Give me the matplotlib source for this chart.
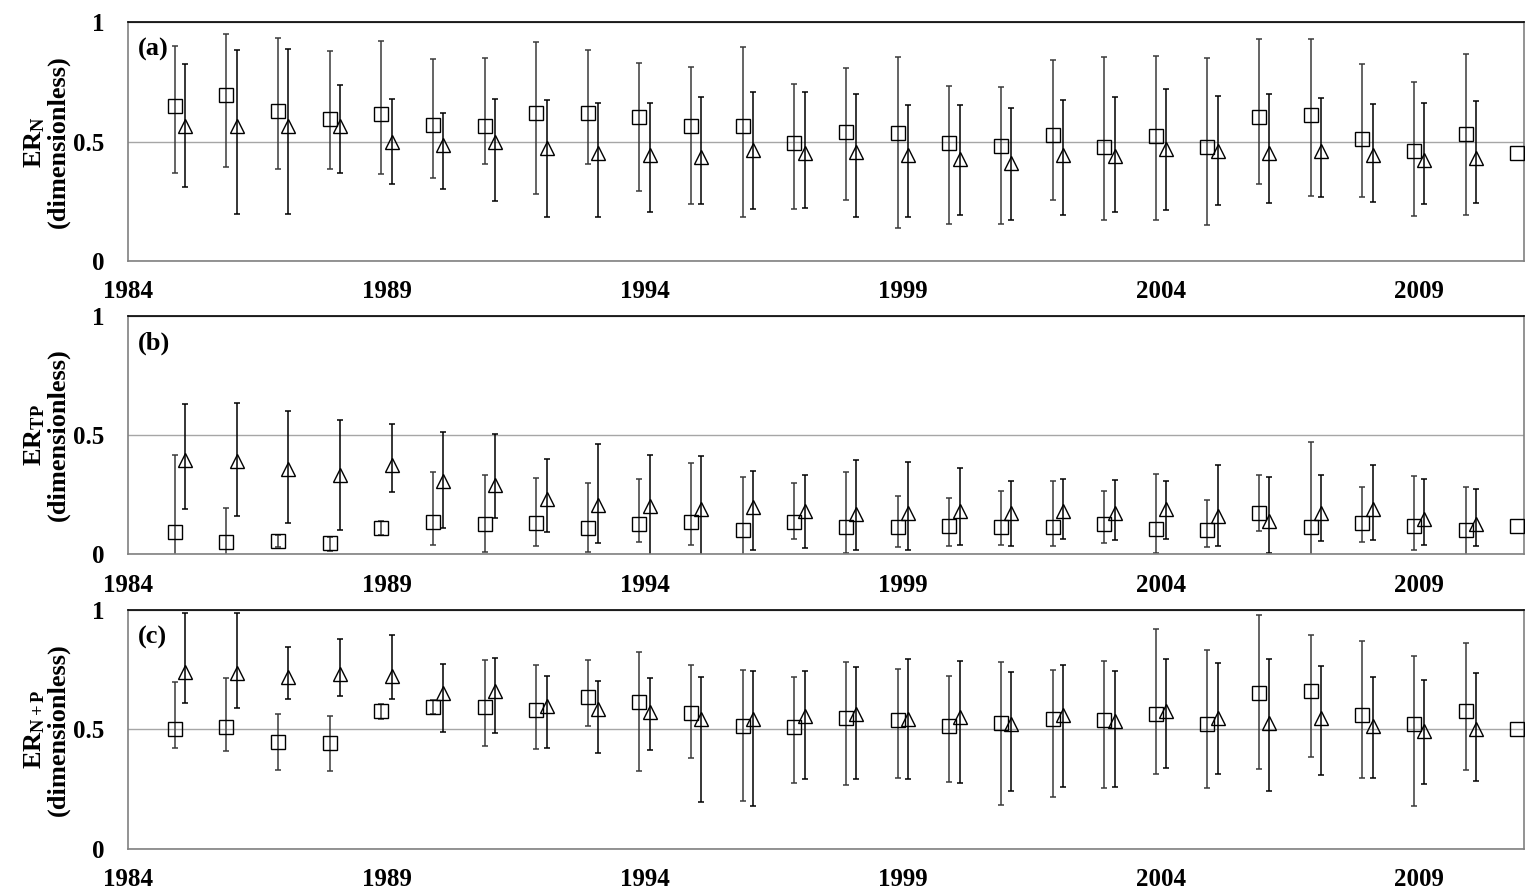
import numpy as np
import matplotlib
matplotlib.use("Agg")
import matplotlib.pyplot as plt

plt.rcParams["font.family"] = "Liberation Serif"
plt.rcParams["font.weight"] = "bold"
plt.rcParams["mathtext.fontset"] = "custom"
plt.rcParams["mathtext.rm"] = "Liberation Serif:bold"
plt.rcParams["mathtext.bf"] = "Liberation Serif:bold"
plt.rcParams["mathtext.it"] = "Liberation Serif:bold"

# años
sq_years = np.arange(1985, 2012)   # cuadrados 1985-2011
tr_years = np.arange(1985, 2011)   # triangulos 1985-2010

# (a) ER_N
a_sq = [0.649, 0.696, 0.628, 0.595, 0.616, 0.571, 0.566, 0.619, 0.619, 0.602, 0.566, 0.566, 0.493, 0.542,
        0.535, 0.493, 0.482, 0.527, 0.478, 0.524, 0.479, 0.602, 0.613, 0.510, 0.462, 0.532, 0.451]
a_sq_hi = [0.902, 0.951, 0.936, 0.878, 0.923, 0.848, 0.852, 0.919, 0.884, 0.828, 0.813, 0.895, 0.740, 0.810,
           0.853, 0.733, 0.730, 0.844, 0.856, 0.860, 0.852, 0.930, 0.932, 0.824, 0.751, 0.869, np.nan]
a_sq_lo = [0.367, 0.394, 0.383, 0.387, 0.363, 0.348, 0.405, 0.281, 0.405, 0.291, 0.237, 0.184, 0.219, 0.254,
           0.137, 0.154, 0.154, 0.256, 0.172, 0.172, 0.149, 0.324, 0.270, 0.267, 0.189, 0.193, np.nan]
a_tr = [0.567, 0.564, 0.564, 0.564, 0.500, 0.485, 0.497, 0.473, 0.454, 0.443, 0.437, 0.464, 0.453, 0.458,
        0.443, 0.427, 0.412, 0.443, 0.439, 0.468, 0.459, 0.454, 0.459, 0.443, 0.423, 0.433]
a_tr_hi = [0.825, 0.884, 0.890, 0.739, 0.677, 0.620, 0.677, 0.675, 0.663, 0.663, 0.687, 0.708, 0.707, 0.698,
           0.654, 0.652, 0.642, 0.675, 0.686, 0.722, 0.689, 0.700, 0.683, 0.659, 0.663, 0.669]
a_tr_lo = [0.310, 0.196, 0.196, 0.369, 0.324, 0.299, 0.250, 0.184, 0.184, 0.204, 0.237, 0.216, 0.221, 0.182,
           0.182, 0.191, 0.169, 0.193, 0.205, 0.212, 0.232, 0.243, 0.268, 0.246, 0.239, 0.243]

# (b) ER_TP
b_sq = [0.093, 0.050, 0.057, 0.049, 0.109, 0.134, 0.125, 0.132, 0.109, 0.127, 0.136, 0.103, 0.136, 0.114,
        0.114, 0.118, 0.116, 0.114, 0.125, 0.106, 0.102, 0.173, 0.114, 0.131, 0.118, 0.100, 0.117]
b_sq_hi = [0.416, 0.194, 0.081, 0.074, 0.139, 0.344, 0.331, 0.318, 0.297, 0.315, 0.383, 0.325, 0.300, 0.343,
           0.244, 0.237, 0.265, 0.305, 0.265, 0.337, 0.228, 0.331, 0.469, 0.283, 0.326, 0.281, np.nan]
b_sq_lo = [-0.230, -0.094, 0.031, 0.014, 0.082, 0.038, 0.011, 0.033, 0.010, 0.052, 0.039, -0.119, 0.064, 0.007,
           0.032, 0.036, 0.039, 0.035, 0.049, 0.007, 0.032, 0.096, -0.241, 0.052, 0.018, -0.081, np.nan]
b_tr = [0.397, 0.391, 0.357, 0.331, 0.375, 0.306, 0.291, 0.230, 0.208, 0.203, 0.188, 0.199, 0.180, 0.170,
        0.173, 0.181, 0.174, 0.181, 0.173, 0.189, 0.162, 0.138, 0.173, 0.188, 0.146, 0.127]
b_tr_hi = [0.628, 0.636, 0.602, 0.563, 0.545, 0.514, 0.503, 0.398, 0.460, 0.418, 0.412, 0.350, 0.334, 0.397,
           0.386, 0.361, 0.309, 0.316, 0.313, 0.306, 0.375, 0.323, 0.331, 0.376, 0.315, 0.272]
b_tr_lo = [0.189, 0.160, 0.130, 0.103, 0.260, 0.109, 0.150, 0.092, 0.049, -0.012, -0.036, 0.017, 0.026, 0.017,
           0.019, 0.040, 0.036, 0.063, 0.060, 0.063, 0.033, 0.007, 0.054, 0.061, 0.040, 0.033]

# (c) ER_N+P
c_sq = [0.502, 0.509, 0.446, 0.442, 0.575, 0.593, 0.593, 0.580, 0.634, 0.615, 0.568, 0.513, 0.510, 0.548,
        0.538, 0.515, 0.526, 0.543, 0.538, 0.565, 0.524, 0.650, 0.660, 0.559, 0.522, 0.578, 0.501]
c_sq_hi = [0.697, 0.716, 0.562, 0.555, 0.606, 0.621, 0.789, 0.769, 0.790, 0.825, 0.768, 0.747, 0.717, 0.783,
           0.752, 0.723, 0.783, 0.750, 0.785, 0.922, 0.831, 0.980, 0.894, 0.871, 0.807, 0.862, np.nan]
c_sq_lo = [0.420, 0.408, 0.331, 0.327, 0.543, 0.564, 0.429, 0.417, 0.515, 0.327, 0.380, 0.201, 0.273, 0.266,
           0.295, 0.280, 0.182, 0.215, 0.252, 0.313, 0.252, 0.333, 0.385, 0.295, 0.178, 0.329, np.nan]
c_tr = [0.738, 0.734, 0.719, 0.731, 0.722, 0.650, 0.660, 0.596, 0.585, 0.571, 0.544, 0.543, 0.557, 0.564,
        0.544, 0.550, 0.520, 0.558, 0.533, 0.575, 0.548, 0.526, 0.547, 0.512, 0.492, 0.499]
c_tr_hi = [0.987, 0.989, 0.845, 0.880, 0.894, 0.772, 0.800, 0.722, 0.702, 0.716, 0.717, 0.744, 0.745, 0.762,
           0.794, 0.786, 0.741, 0.771, 0.745, 0.794, 0.778, 0.796, 0.764, 0.719, 0.706, 0.736]
c_tr_lo = [0.611, 0.590, 0.625, 0.638, 0.627, 0.487, 0.485, 0.421, 0.400, 0.411, 0.193, 0.179, 0.292, 0.292,
           0.292, 0.274, 0.242, 0.256, 0.256, 0.336, 0.312, 0.239, 0.308, 0.294, 0.269, 0.281]

panels = [
    ("(a)", r"$\mathbf{ER_{N}}$", a_sq, a_sq_hi, a_sq_lo, a_tr, a_tr_hi, a_tr_lo),
    ("(b)", r"$\mathbf{ER_{TP}}$", b_sq, b_sq_hi, b_sq_lo, b_tr, b_tr_hi, b_tr_lo),
    ("(c)", r"$\mathbf{ER_{N+P}}$", c_sq, c_sq_hi, c_sq_lo, c_tr, c_tr_hi, c_tr_lo),
]

xticks = [1984, 1989, 1994, 1999, 2004, 2009]
dx = 0.1

fig = plt.figure(figsize=(15.25, 8.92), dpi=100)
W, H = 1525.0, 892.0
tops = [22.3, 315.7, 610.0]
left_px, right_px, h_px = 128.3, 1524.0, 238.5


def draw_series(ax, x, y, hi, lo, marker, ecolor):
    x = np.asarray(x, float)
    y = np.asarray(y, float)
    hi = np.asarray(hi, float)
    lo = np.asarray(lo, float)
    ok = ~np.isnan(hi)
    ax.errorbar(x[ok], y[ok], yerr=[y[ok] - lo[ok], hi[ok] - y[ok]], fmt="none",
                ecolor=ecolor, elinewidth=1.1, capsize=2.3, capthick=1.1, zorder=2)
    ax.plot(x, y, linestyle="none", marker=marker, markersize=10.3, markerfacecolor="none",
            markeredgecolor="black", markeredgewidth=1.0, zorder=3)


for i, (tag, lab, sq, sq_hi, sq_lo, tr, tr_hi, tr_lo) in enumerate(panels):
    top = tops[i]
    ax = fig.add_axes([left_px / W, 1 - (top + h_px) / H, (right_px - left_px) / W, h_px / H])

    draw_series(ax, sq_years - dx, sq, sq_hi, sq_lo, "s", "#3a3a3a")
    draw_series(ax, tr_years + dx, tr, tr_hi, tr_lo, "^", "black")

    ax.set_xlim(1984, 2011.03)
    ax.set_ylim(0, 1)
    ax.set_yticks([0, 0.5, 1])
    ax.set_yticklabels(["0", "0.5", "1"])
    ax.set_xticks(xticks)
    ax.set_xticklabels([str(t) for t in xticks])
    ax.tick_params(axis="both", length=0, labelsize=18)
    ax.tick_params(axis="y", pad=17)
    ax.tick_params(axis="x", pad=14)
    ax.yaxis.grid(True, color="#a6a6a6", linewidth=1.0)
    ax.set_axisbelow(True)

    for s in ["left", "bottom", "right"]:
        ax.spines[s].set_color("#808080")
        ax.spines[s].set_linewidth(1.2)
    ax.spines["top"].set_color("black")
    ax.spines["top"].set_linewidth(1.2)

    ax.set_ylabel(lab + "\n(dimensionless)", fontsize=19, fontweight="bold", linespacing=1.0)
    ax.yaxis.set_label_coords(-0.0417, 0.5)

    ax.text(0.007, 0.935, tag, transform=ax.transAxes, fontsize=19, fontweight="bold",
            ha="left", va="top")

fig.savefig("out.png", dpi=100)
